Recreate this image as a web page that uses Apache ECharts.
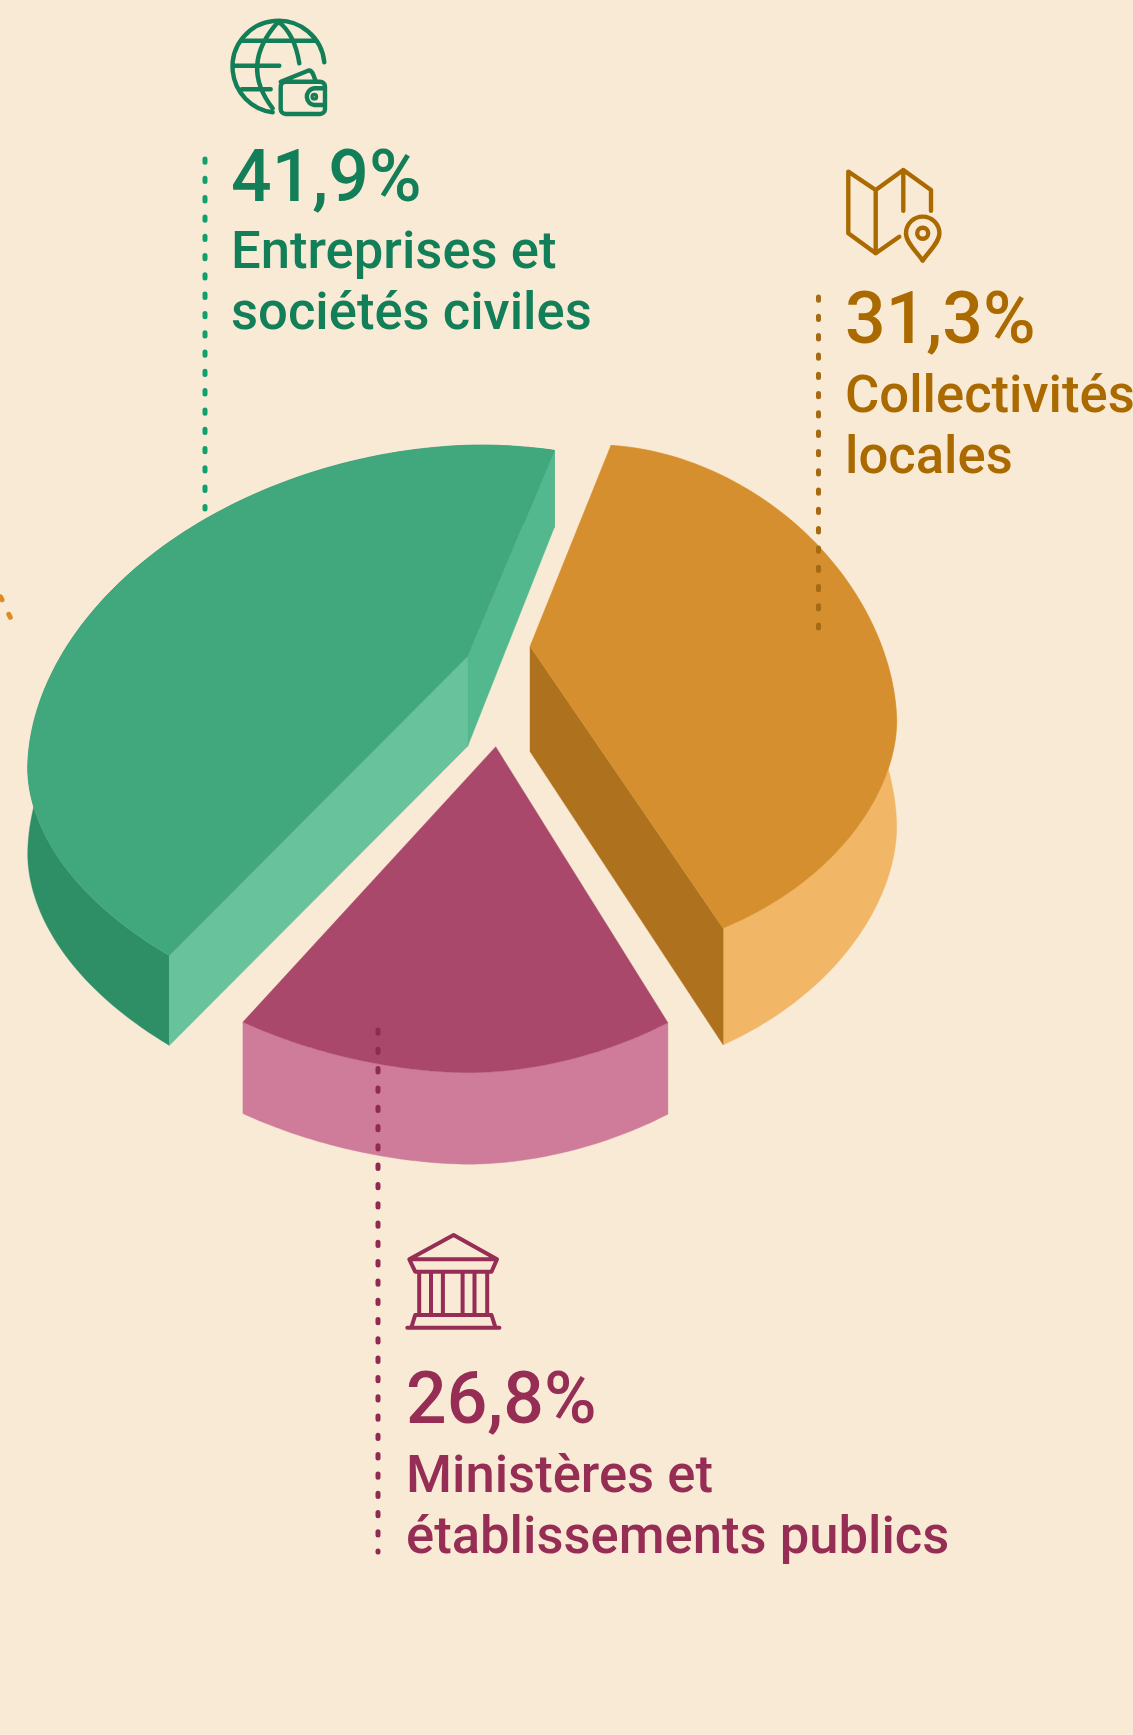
<!DOCTYPE html>
<html>
<head>
<meta charset="utf-8">
<style>html,body{margin:0;padding:0;background:#F9EAD6}#c{width:1133px;height:1735px}</style>
<script src="https://cdn.jsdelivr.net/npm/echarts@6/dist/echarts.min.js"></script>
</head>
<body>
<div id="c"></div>
<script>
// ---- data ----
const categories = ['Collectivités locales', 'Ministères et établissements publics', 'Entreprises et sociétés civiles'];
const shares = [31.3, 26.8, 41.9];
const labelLines = [['Collectivités', 'locales'], ['Ministères et', 'établissements publics'], ['Entreprises et', 'sociétés civiles']];

// ---- palette ----
const bg = '#F9EAD6';
const textColors = ['#AB6A00', '#952D55', '#137F58'];
const leaderColors = ['#A66A12', '#902A52', '#10A06C'];

// ---- projection of each exploded slice: apex, rim superellipse quadrants, start angle, span warp, extrusion ----
const sliceLayout = [
  { apex: [530, 646.3], center: [600, 722], wl: 296.7, wr: 296.7, ht: 277, hb: 232, n: 1.85, start: 2.7, warp: 1.34,
    dApex: 105.3, dStart: 90, dEnd: 116.7, top: '#D68F2E', wall: '#F1B766', startFace: null, endFace: '#AE721F' },
  { apex: [495.7, 746.7], center: [470, 814.7], wl: 412, wr: 361, ht: 258, hb: 258, n: 1.85, start: 145, warp: 0.7276,
    dApex: 91.5, dStart: 91.5, dEnd: 91.5, top: '#AA486B', wall: '#CF7C9B', startFace: null, endFace: null },
  { apex: [467.7, 656.5], center: [481.7, 768.5], wl: 454, wr: 454, ht: 323.5, hb: 267, n: 1.9, start: 224.5, warp: 0.9653,
    dApex: 89.8, dStart: 89.8, dEnd: 77, top: '#41A77C', wall: '#2E8F67', startFace: '#68C39C', endFace: '#54B88E' }
];

// ---- text and leader layout ----
const textLayout = [
  { x: 845, pct: 344.3, l1: 410.7, l2: 472.3 },
  { x: 406, pct: 1424, l1: 1491, l2: 1551.7 },
  { x: 231, pct: 201.7, l1: 266.7, l2: 328.3 }
];
const pctFont = 71.5, labelFont = 52.6;
const leaderLayout = [
  { p: [818.5, 297, 818.5, 628], c: 0 },
  { p: [378, 1030, 378, 1552], c: 1 },
  { p: [205, 159, 205, 509], c: 2 },
  { p: [-7.6, 579.4, 12, 621], c: -1 }
];
const strayColor = '#DD8A20';

// ---- icons (outline drawings) ----
const icons = [
  { c: 0, w: 4.4, d: 'M899.3 236.7L875.7 253.3L848.3 233.3V171.7L875.7 190L903.3 170L931 190V210.7M875.7 190V253.3M903.3 170V210.7' +
    'M922.7 260.7C917 252 906 243 906 233.3A16.7 16.7 0 0 1 939.4 233.3C939.4 243 928 252 922.7 260.7Z' +
    'M928.2 233.3A5.5 5.5 0 1 1 917.2 233.3A5.5 5.5 0 1 1 928.2 233.3Z' },
  { c: 1, w: 4, d: 'M409.3 1259.3L453.6 1235L497 1259.3ZM409.3 1259.3L415.2 1271.7H491.5L497 1259.3' +
    'M419.2 1271.7V1315M431 1271.7V1315M442.9 1271.7V1315M462.6 1271.7V1315M474.5 1271.7V1315M487.2 1271.7V1315' +
    'M415.2 1315H491.5L495.5 1327.7H411.3ZM407.3 1327.7H499.4' },
  { c: 2, w: 4.4, d: 'M324.3 62.3A46 46 0 1 0 272.7 112.3M243.3 40.7H313.3M233.3 65.7H279.3M241.7 89.3H270.7' +
    'M278.3 21.7Q239 65 272.7 108.3M278.3 21.7Q294.6 33.5 299.3 63.3' +
    'M285.7 81.7H320A5 5 0 0 1 325 86.7V109A5 5 0 0 1 320 114H285.7A5 5 0 0 1 280.7 109V86.7A5 5 0 0 1 285.7 81.7Z' +
    'M280.7 81.7L308 70.7Q311 69.7 313 74L316 81.7M325 88.3H314.3A8.4 8.4 0 0 0 314.3 105H325M316 96.7A1.7 1.7 0 1 1 312.6 96.7A1.7 1.7 0 1 1 316 96.7Z' }
];

// ---- geometry derived from the values ----
const rad = d => d * Math.PI / 180;
function rimPoint(L, t, depth) {
  const s = Math.sin(rad(t)), c = Math.cos(rad(t)), e = 2 / L.n;
  const us = Math.pow(Math.abs(s), e) * Math.sign(s), uc = Math.pow(Math.abs(c), e) * Math.sign(c);
  return [L.center[0] + us * (s >= 0 ? L.wr : L.wl), L.center[1] - uc * (c >= 0 ? L.ht : L.hb) + depth];
}
function sliceChildren(i, value) {
  const L = sliceLayout[i];
  const span = value / 100 * 360 * L.warp;
  const n = 120, topRim = [], lowRim = [];
  for (let k = 0; k <= n; k++) {
    const f = k / n, t = L.start + span * f;
    topRim.push(rimPoint(L, t, 0));
    lowRim.push(rimPoint(L, t, L.dStart + (L.dEnd - L.dStart) * f));
  }
  const first = topRim[0], last = topRim[n], lf = lowRim[0], ll = lowRim[n];
  const low = [L.apex[0], L.apex[1] + L.dApex];
  const poly = (points, fill) => ({ type: 'polygon', shape: { points }, style: { fill, stroke: fill, lineWidth: 0.4 } });
  const out = [poly(topRim.concat(lowRim.slice().reverse()), L.wall)];
  if (L.startFace) out.push(poly([L.apex, first, lf, low], L.startFace));
  if (L.endFace) out.push(poly([L.apex, last, ll, low], L.endFace));
  out.push(poly([L.apex].concat(topRim), L.top));
  return out;
}

const chart = echarts.init(document.getElementById('c'), null, { renderer: 'canvas' });

function percentText(v) { return v.toFixed(1).replace('.', ',') + '%'; }
function txt(x, y, text, size, fill) {
  return { type: 'text', x: x, y: y, style: { text: text, fill: fill, font: '500 ' + size + 'px Roboto', verticalAlign: 'middle', align: 'left' } };
}

const option = {
  backgroundColor: bg,
  animation: false,
  series: [
    { type: 'custom', coordinateSystem: 'none', silent: true, z: 1, clip: false,
      data: shares.map((v, i) => ({ name: categories[i], value: [v] })),
      renderItem: (p, api) => ({ type: 'group', children: sliceChildren(p.dataIndex, api.value(0)) }) },
    { type: 'custom', coordinateSystem: 'none', silent: true, z: 2,
      data: leaderLayout.map((_, i) => [i]),
      renderItem: (p) => {
        const l = leaderLayout[p.dataIndex];
        return { type: 'line', shape: { x1: l.p[0], y1: l.p[1], x2: l.p[2], y2: l.p[3] },
          style: { stroke: l.c < 0 ? strayColor : leaderColors[l.c], lineWidth: 5, lineCap: 'round', lineDash: [3.3, 16] } };
      } },
    { type: 'custom', coordinateSystem: 'none', silent: true, z: 3,
      data: icons.map((_, i) => [i]),
      renderItem: (p) => {
        const ic = icons[p.dataIndex];
        return { type: 'path', shape: { pathData: ic.d },
          style: { fill: 'none', stroke: textColors[ic.c], lineWidth: ic.w, lineCap: 'round', lineJoin: 'round' } };
      } },
    { type: 'custom', coordinateSystem: 'none', silent: true, z: 4,
      data: shares.map((v) => [v]),
      renderItem: (p, api) => {
        const i = p.dataIndex, t = textLayout[i], col = textColors[i];
        return { type: 'group', children: [
          txt(t.x, t.pct - 0.264 * pctFont, percentText(api.value(0)), pctFont, col),
          txt(t.x, t.l1 - 0.23 * labelFont, labelLines[i][0], labelFont, col),
          txt(t.x, t.l2 - 0.23 * labelFont, labelLines[i][1], labelFont, col)
        ] };
      } }
  ]
};
chart.setOption(option);
</script>
</body>
</html>
